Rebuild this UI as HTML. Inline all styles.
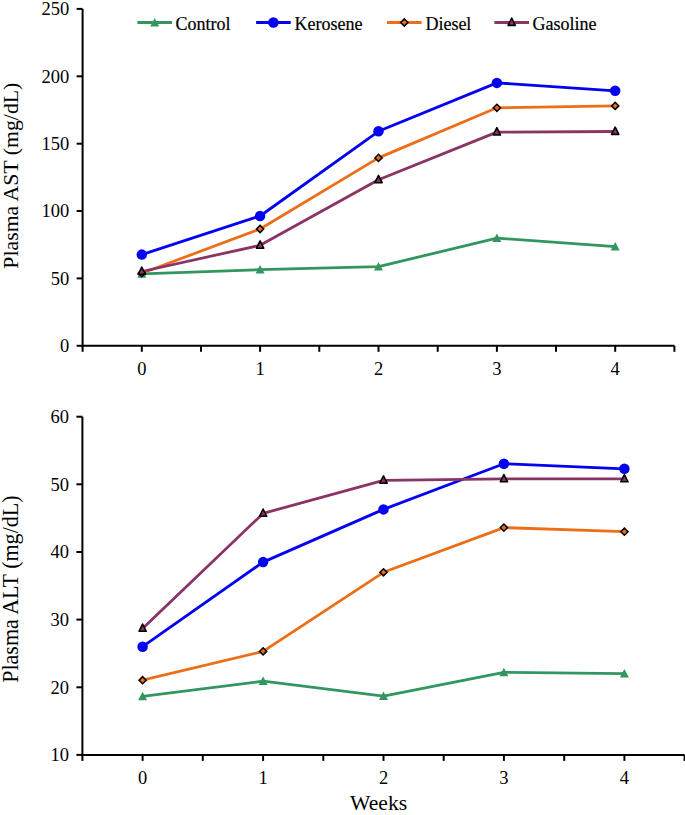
<!DOCTYPE html>
<html><head><meta charset="utf-8"><style>
html,body{margin:0;padding:0;background:#fff;}
svg{display:block;}
.t{font-family:"Liberation Serif",serif;font-size:18.5px;fill:#000;}
.a{font-family:"Liberation Serif",serif;font-size:21.6px;fill:#000;}
.r{font-size:21.8px;}
.l{font-size:18px;stroke:#000;stroke-width:0.2px;}
</style></head><body>
<svg width="685" height="815" viewBox="0 0 685 815">
<rect width="685" height="815" fill="#fff"/>
<path d="M82.6,8.9 V345.8 H674.4" fill="none" stroke="#000" stroke-width="2"/>
<path d="M76.6,345.8 H82.6" stroke="#000" stroke-width="2"/>
<text x="69.2" y="352.1" text-anchor="end" class="t">0</text>
<path d="M76.6,278.4 H82.6" stroke="#000" stroke-width="2"/>
<text x="69.2" y="284.7" text-anchor="end" class="t">50</text>
<path d="M76.6,211.0 H82.6" stroke="#000" stroke-width="2"/>
<text x="69.2" y="217.3" text-anchor="end" class="t">100</text>
<path d="M76.6,143.7 H82.6" stroke="#000" stroke-width="2"/>
<text x="69.2" y="150.0" text-anchor="end" class="t">150</text>
<path d="M76.6,76.3 H82.6" stroke="#000" stroke-width="2"/>
<text x="69.2" y="82.6" text-anchor="end" class="t">200</text>
<path d="M76.6,8.9 H82.6" stroke="#000" stroke-width="2"/>
<text x="69.2" y="15.2" text-anchor="end" class="t">250</text>
<path d="M82.6,345.8 V351.8" stroke="#000" stroke-width="2"/>
<path d="M141.8,345.8 V351.8" stroke="#000" stroke-width="2"/>
<path d="M201.0,345.8 V351.8" stroke="#000" stroke-width="2"/>
<path d="M260.1,345.8 V351.8" stroke="#000" stroke-width="2"/>
<path d="M319.3,345.8 V351.8" stroke="#000" stroke-width="2"/>
<path d="M378.5,345.8 V351.8" stroke="#000" stroke-width="2"/>
<path d="M437.7,345.8 V351.8" stroke="#000" stroke-width="2"/>
<path d="M496.9,345.8 V351.8" stroke="#000" stroke-width="2"/>
<path d="M556.0,345.8 V351.8" stroke="#000" stroke-width="2"/>
<path d="M615.2,345.8 V351.8" stroke="#000" stroke-width="2"/>
<path d="M674.4,345.8 V351.8" stroke="#000" stroke-width="2"/>
<text x="141.8" y="374.9" text-anchor="middle" class="t">0</text>
<text x="260.1" y="374.9" text-anchor="middle" class="t">1</text>
<text x="378.5" y="374.9" text-anchor="middle" class="t">2</text>
<text x="496.9" y="374.9" text-anchor="middle" class="t">3</text>
<text x="615.2" y="374.9" text-anchor="middle" class="t">4</text>
<path d="M141.8,273.8 L260.1,269.7 L378.5,266.7 L496.9,238.1 L615.2,246.6" fill="none" stroke="#32975F" stroke-width="2.8" stroke-linejoin="round"/>
<path d="M141.8,269.2 L146.3,277.7 L137.3,277.7Z" fill="#32975F"/>
<path d="M260.1,265.1 L264.6,273.6 L255.6,273.6Z" fill="#32975F"/>
<path d="M378.5,262.1 L383.0,270.6 L374.0,270.6Z" fill="#32975F"/>
<path d="M496.9,233.5 L501.4,242.0 L492.4,242.0Z" fill="#32975F"/>
<path d="M615.2,242.0 L619.7,250.5 L610.7,250.5Z" fill="#32975F"/>
<path d="M141.8,254.6 L260.1,216.0 L378.5,131.3 L496.9,82.9 L615.2,90.8" fill="none" stroke="#0303F0" stroke-width="2.8" stroke-linejoin="round"/>
<circle cx="141.8" cy="254.6" r="5.25" fill="#0303F0"/>
<circle cx="260.1" cy="216.0" r="5.25" fill="#0303F0"/>
<circle cx="378.5" cy="131.3" r="5.25" fill="#0303F0"/>
<circle cx="496.9" cy="82.9" r="5.25" fill="#0303F0"/>
<circle cx="615.2" cy="90.8" r="5.25" fill="#0303F0"/>
<path d="M141.8,273.2 L260.1,229.0 L378.5,157.9 L496.9,107.8 L615.2,105.9" fill="none" stroke="#EC6E18" stroke-width="2.8" stroke-linejoin="round"/>
<path d="M141.8,269.6 L145.4,273.2 L141.8,276.8 L138.2,273.2Z" fill="#EC6E18" stroke="#000" stroke-width="1.5"/>
<path d="M260.1,225.4 L263.7,229.0 L260.1,232.6 L256.5,229.0Z" fill="#EC6E18" stroke="#000" stroke-width="1.5"/>
<path d="M378.5,154.3 L382.1,157.9 L378.5,161.5 L374.9,157.9Z" fill="#EC6E18" stroke="#000" stroke-width="1.5"/>
<path d="M496.9,104.2 L500.5,107.8 L496.9,111.4 L493.3,107.8Z" fill="#EC6E18" stroke="#000" stroke-width="1.5"/>
<path d="M615.2,102.3 L618.8,105.9 L615.2,109.5 L611.6,105.9Z" fill="#EC6E18" stroke="#000" stroke-width="1.5"/>
<path d="M141.8,271.5 L260.1,245.3 L378.5,179.8 L496.9,132.1 L615.2,131.5" fill="none" stroke="#8A3466" stroke-width="2.8" stroke-linejoin="round"/>
<path d="M141.8,267.1 L145.4,274.4 L138.2,274.4Z" fill="#8A3466" stroke="#000" stroke-width="1.6" stroke-linejoin="round"/>
<path d="M260.1,240.9 L263.7,248.2 L256.5,248.2Z" fill="#8A3466" stroke="#000" stroke-width="1.6" stroke-linejoin="round"/>
<path d="M378.5,175.4 L382.1,182.7 L374.9,182.7Z" fill="#8A3466" stroke="#000" stroke-width="1.6" stroke-linejoin="round"/>
<path d="M496.9,127.7 L500.5,135.0 L493.3,135.0Z" fill="#8A3466" stroke="#000" stroke-width="1.6" stroke-linejoin="round"/>
<path d="M615.2,127.1 L618.8,134.4 L611.6,134.4Z" fill="#8A3466" stroke="#000" stroke-width="1.6" stroke-linejoin="round"/>
<text transform="translate(18.0,268.7) rotate(-90)" class="a" style="font-size:21.8px">Plasma AST (mg/dL)</text>
<path d="M82.4,416.7 V754.9 H684.6" fill="none" stroke="#000" stroke-width="2"/>
<path d="M76.4,754.9 H82.4" stroke="#000" stroke-width="2"/>
<text x="69.0" y="761.2" text-anchor="end" class="t">10</text>
<path d="M76.4,687.3 H82.4" stroke="#000" stroke-width="2"/>
<text x="69.0" y="693.6" text-anchor="end" class="t">20</text>
<path d="M76.4,619.6 H82.4" stroke="#000" stroke-width="2"/>
<text x="69.0" y="625.9" text-anchor="end" class="t">30</text>
<path d="M76.4,552.0 H82.4" stroke="#000" stroke-width="2"/>
<text x="69.0" y="558.3" text-anchor="end" class="t">40</text>
<path d="M76.4,484.3 H82.4" stroke="#000" stroke-width="2"/>
<text x="69.0" y="490.6" text-anchor="end" class="t">50</text>
<path d="M76.4,416.7 H82.4" stroke="#000" stroke-width="2"/>
<text x="69.0" y="423.0" text-anchor="end" class="t">60</text>
<path d="M82.4,754.9 V760.9" stroke="#000" stroke-width="2"/>
<path d="M142.6,754.9 V760.9" stroke="#000" stroke-width="2"/>
<path d="M202.8,754.9 V760.9" stroke="#000" stroke-width="2"/>
<path d="M263.1,754.9 V760.9" stroke="#000" stroke-width="2"/>
<path d="M323.3,754.9 V760.9" stroke="#000" stroke-width="2"/>
<path d="M383.5,754.9 V760.9" stroke="#000" stroke-width="2"/>
<path d="M443.7,754.9 V760.9" stroke="#000" stroke-width="2"/>
<path d="M503.9,754.9 V760.9" stroke="#000" stroke-width="2"/>
<path d="M564.2,754.9 V760.9" stroke="#000" stroke-width="2"/>
<path d="M624.4,754.9 V760.9" stroke="#000" stroke-width="2"/>
<path d="M684.6,754.9 V760.9" stroke="#000" stroke-width="2"/>
<text x="142.6" y="784.0" text-anchor="middle" class="t">0</text>
<text x="263.1" y="784.0" text-anchor="middle" class="t">1</text>
<text x="383.5" y="784.0" text-anchor="middle" class="t">2</text>
<text x="503.9" y="784.0" text-anchor="middle" class="t">3</text>
<text x="624.4" y="784.0" text-anchor="middle" class="t">4</text>
<path d="M142.6,696.4 L263.1,681.2 L383.5,696.1 L503.9,672.4 L624.4,673.7" fill="none" stroke="#32975F" stroke-width="2.8" stroke-linejoin="round"/>
<path d="M142.6,691.8 L147.1,700.3 L138.1,700.3Z" fill="#32975F"/>
<path d="M263.1,676.6 L267.6,685.1 L258.6,685.1Z" fill="#32975F"/>
<path d="M383.5,691.5 L388.0,700.0 L379.0,700.0Z" fill="#32975F"/>
<path d="M503.9,667.8 L508.4,676.3 L499.4,676.3Z" fill="#32975F"/>
<path d="M624.4,669.1 L628.9,677.6 L619.9,677.6Z" fill="#32975F"/>
<path d="M142.6,646.7 L263.1,562.1 L383.5,509.4 L503.9,463.7 L624.4,468.8" fill="none" stroke="#0303F0" stroke-width="2.8" stroke-linejoin="round"/>
<circle cx="142.6" cy="646.7" r="5.25" fill="#0303F0"/>
<circle cx="263.1" cy="562.1" r="5.25" fill="#0303F0"/>
<circle cx="383.5" cy="509.4" r="5.25" fill="#0303F0"/>
<circle cx="503.9" cy="463.7" r="5.25" fill="#0303F0"/>
<circle cx="624.4" cy="468.8" r="5.25" fill="#0303F0"/>
<path d="M142.6,680.2 L263.1,651.4 L383.5,572.3 L503.9,527.6 L624.4,531.7" fill="none" stroke="#EC6E18" stroke-width="2.8" stroke-linejoin="round"/>
<path d="M142.6,676.6 L146.2,680.2 L142.6,683.8 L139.0,680.2Z" fill="#EC6E18" stroke="#000" stroke-width="1.5"/>
<path d="M263.1,647.8 L266.7,651.4 L263.1,655.0 L259.5,651.4Z" fill="#EC6E18" stroke="#000" stroke-width="1.5"/>
<path d="M383.5,568.7 L387.1,572.3 L383.5,575.9 L379.9,572.3Z" fill="#EC6E18" stroke="#000" stroke-width="1.5"/>
<path d="M503.9,524.0 L507.5,527.6 L503.9,531.2 L500.3,527.6Z" fill="#EC6E18" stroke="#000" stroke-width="1.5"/>
<path d="M624.4,528.1 L628.0,531.7 L624.4,535.3 L620.8,531.7Z" fill="#EC6E18" stroke="#000" stroke-width="1.5"/>
<path d="M142.6,628.4 L263.1,513.4 L383.5,480.3 L503.9,478.9 L624.4,478.9" fill="none" stroke="#8A3466" stroke-width="2.8" stroke-linejoin="round"/>
<path d="M142.6,624.0 L146.2,631.3 L139.0,631.3Z" fill="#8A3466" stroke="#000" stroke-width="1.6" stroke-linejoin="round"/>
<path d="M263.1,509.0 L266.7,516.3 L259.5,516.3Z" fill="#8A3466" stroke="#000" stroke-width="1.6" stroke-linejoin="round"/>
<path d="M383.5,475.9 L387.1,483.2 L379.9,483.2Z" fill="#8A3466" stroke="#000" stroke-width="1.6" stroke-linejoin="round"/>
<path d="M503.9,474.5 L507.5,481.8 L500.3,481.8Z" fill="#8A3466" stroke="#000" stroke-width="1.6" stroke-linejoin="round"/>
<path d="M624.4,474.5 L628.0,481.8 L620.8,481.8Z" fill="#8A3466" stroke="#000" stroke-width="1.6" stroke-linejoin="round"/>
<text transform="translate(18.0,682.8) rotate(-90)" class="a" style="font-size:22.05px">Plasma ALT (mg/dL)</text>
<path d="M137.4,22.5 H172.0" stroke="#32975F" stroke-width="3"/>
<path d="M154.7,17.9 L159.2,26.4 L150.2,26.4Z" fill="#32975F"/>
<text x="175.5" y="29.8" class="t l">Control</text>
<path d="M256.1,22.5 H290.70000000000005" stroke="#0303F0" stroke-width="3"/>
<circle cx="273.4" cy="22.5" r="5.25" fill="#0303F0"/>
<text x="294.6" y="29.8" class="t l">Kerosene</text>
<path d="M387,22.5 H421.6" stroke="#EC6E18" stroke-width="3"/>
<path d="M404.3,18.9 L407.9,22.5 L404.3,26.1 L400.7,22.5Z" fill="#EC6E18" stroke="#000" stroke-width="1.5"/>
<text x="425.4" y="29.8" class="t l">Diesel</text>
<path d="M494.4,22.5 H529.0" stroke="#8A3466" stroke-width="3"/>
<path d="M511.7,18.1 L515.3,25.4 L508.1,25.4Z" fill="#8A3466" stroke="#000" stroke-width="1.6" stroke-linejoin="round"/>
<text x="532.5" y="29.8" class="t l">Gasoline</text>
<text x="378.6" y="810.2" text-anchor="middle" class="a">Weeks</text>
</svg>
</body></html>
